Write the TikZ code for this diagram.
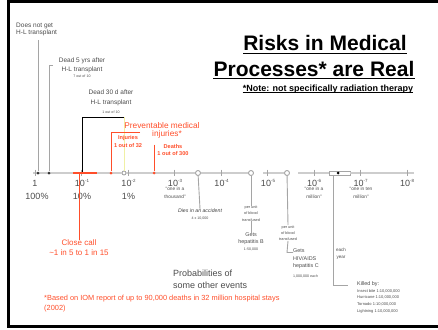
\documentclass[tikz,border=0pt]{standalone}
\usepackage{fontspec}
\setmainfont{Liberation Sans}
\definecolor{medred}{RGB}{255,78,42}
\definecolor{txtgray}{RGB}{75,75,75}
\definecolor{linegray}{RGB}{165,165,165}
\definecolor{axisgray}{RGB}{205,205,205}
\definecolor{paleyellow}{RGB}{240,240,165}
\newcommand{\sz}[1]{\fontsize{#1}{#1}\selectfont}
\newcommand{\dec}[1]{10\raisebox{0.5em}{\fontsize{4.5}{4.5}\selectfont -#1}}
\begin{document}
\begin{tikzpicture}[x=1pt,y=-1pt,
  lbl/.style={inner sep=0pt, text=txtgray, align=center},
  axlab/.style={lbl, font=\sz{9}},
  quote/.style={lbl, font=\fontsize{4.8}{7.5}\selectfont},
  tiny/.style={lbl, font=\fontsize{3.6}{6.5}\selectfont},
  redtxt/.style={inner sep=0pt, text=medred, align=center},
  axisline/.style={draw=axisgray, line width=1.6pt},
  tickmark/.style={draw=linegray, line width=0.9pt},
  lead/.style={draw=linegray, line width=0.9pt},
  redlead/.style={draw=medred, line width=1pt},
  hollow/.style={circle, draw=linegray, fill=white, line width=0.9pt, inner sep=0pt, minimum size=5pt},
  dot/.style={circle, fill=#1, inner sep=0pt, minimum size=3pt},
  title/.style={inner sep=0pt, font=\bfseries\sz{21}, anchor=base},
  ul/.style={draw=black, line width=1.6pt}]
\useasboundingbox (0,0) rectangle (438,329);

% slide frame
\draw[line width=3pt] (438,2) -- (8.5,2) -- (8.5,326) -- (438,326);

% title
\node[title] (t1) at (325,51) {Risks in Medical};
\node[title] (t2) at (314,76) {Processes* are Real};
\node[inner sep=0pt, font=\bfseries\sz{9}, anchor=base] (nt) at (328,91) {*Note: not specifically radiation therapy};
\draw[ul] ([yshift=-2.5pt]t1.base west) -- ([yshift=-2.5pt]t1.base east);
\draw[ul] ([yshift=-2.5pt]t2.base west) -- ([yshift=-2.5pt]t2.base east);
\draw[draw=black, line width=0.9pt] ([yshift=-1.8pt]nt.base west) -- ([yshift=-1.8pt]nt.base east);

% probability axis
\coordinate (a0) at (33,173);
\coordinate (s2) at (263,173);
\coordinate (s3) at (298,173);
\coordinate (aend) at (414,173);
\node[hollow] (c1) at (198,173) {};
\node[hollow] (c2) at (251,173) {};
\node[hollow] (c3) at (287,173) {};
\node[draw=linegray, fill=white, line width=0.9pt, inner sep=0pt, minimum width=21pt, minimum height=4pt] (yr) at (339.5,173) {};
\node[hollow, minimum size=4pt] (cy) at (124,173) {};
\draw[axisline] (a0) -- (cy) -- (c1) -- (c2);
\draw[axisline] (s2) -- (c3);
\draw[axisline] (s3) -- (yr) -- (aend);
\foreach \k in {0,...,8}
  \draw[tickmark] (35+46.5*\k,169.5) -- ++(0,6.5);

% decade labels
\node[axlab] (d0) at (35,183) {1};
\node[axlab] (d1) at (82,183) {\dec{1}};
\node[axlab] (d2) at (128.5,183) {\dec{2}};
\node[axlab] (d3) at (175,183) {\dec{3}};
\node[axlab] (d4) at (221.5,183) {\dec{4}};
\node[axlab] (d5) at (268,183) {\dec{5}};
\node[axlab] (d6) at (314,183) {\dec{6}};
\node[axlab] (d7) at (360.5,183) {\dec{7}};
\node[axlab] (d8) at (407,183) {\dec{8}};
\node[axlab] (p0) at (37,196) {100\%};
\node[axlab] (p1) at (82,196) {10\%};
\node[axlab] (p2) at (128.5,196) {1\%};
\node[quote] (q3) at (175,193) {``one in a\\thousand''};
\node[quote] (q6) at (314,193) {``one in a\\million''};
\node[quote] (q7) at (361,193) {``one in ten\\million''};

% heart-lung transplant outcomes
\node[dot=black!80] (m0) at (38,173) {};
\node[dot=black!80] (m1) at (49,173) {};
\node[lbl, font=\fontsize{6.5}{7.5}\selectfont, align=left, anchor=north west] (hl0) at (16,22.5) {Does not get\\H-L transplant};
\draw[lead] (38,40) -- (m0);
\node[lbl, font=\fontsize{6.5}{9}\selectfont] (hl5) at (82,65) {Dead 5 yrs after\\H-L transplant};
\node[tiny] (hl5n) at (82,76.5) {7 out of 10};
\draw[lead] (53,65.5) -- (49,65.5) -- (m1);
\node[lbl, font=\fontsize{6.5}{9.5}\selectfont] (hl30) at (111,98) {Dead 30 d after\\H-L transplant};
\node[tiny] (hl30n) at (111,112.5) {1 out of 10};
\coordinate (bk1) at (82,117);
\coordinate (bk2) at (124,117);
\draw[draw=black, line width=1pt] (82,173) -- (bk1) -- (bk2);
\draw[draw=paleyellow, line width=1pt] (bk2) -- (cy);

% medical injuries
\node[redtxt, font=\fontsize{8.3}{8.3}\selectfont, anchor=base] (pm) at (162,128.5) {Preventable medical};
\node[redtxt, font=\fontsize{8.3}{8.3}\selectfont, anchor=base] (pmi) at (167,136) {injuries*};
\node[redtxt, font=\bfseries\fontsize{5.6}{8}\selectfont] (inj) at (128,142) {Injuries\\1 out of 32};
\node[redtxt, font=\bfseries\fontsize{5.6}{7}\selectfont] (dth) at (173,150) {Deaths\\1 out of 300};
\node[dot=medred] (ri) at (111,173) {};
\node[dot=medred] (rd) at (154,173) {};
\draw[redlead] (140,132) -- (111,132) -- (ri);
\draw[redlead] (154,144.5) -- (rd);

% close call
\coordinate (cc1) at (73,173);
\coordinate (cc2) at (97,173);
\draw[draw=medred, line width=2.6pt] (cc1) -- (cc2);
\node[redtxt, font=\fontsize{8}{10}\selectfont] (cc) at (79,248) {Close call\\\textasciitilde1 in 5 to 1 in 15};
\draw[redlead] (79,173) -- (cc.north);

% other events
\node[lbl, font=\itshape\fontsize{5.2}{5.2}\selectfont, text=black!75] (acc) at (200,211) {Dies in an accident};
\node[tiny] (accn) at (200,218) {4 x 10,000};
\draw[lead] (c1) -- (acc.north);

\node[tiny, font=\fontsize{3.8}{6.3}\selectfont] (bu1) at (251,213.5) {per unit\\of blood\\transfused};
\draw[lead] (c2) -- (bu1.north);
\node[lbl, font=\fontsize{5.4}{7}\selectfont] (hb) at (251,239) {Gets\\hepatitis B};
\node[tiny] (hbn) at (251,249.5) {1:50,000};
\draw[lead] (bu1.south) -- (hb.north);

\node[tiny, font=\fontsize{3.8}{6.3}\selectfont] (bu2) at (288,233) {per unit\\of blood\\transfused};
\draw[lead] (c3) -- (bu2.north);
\node[lbl, font=\fontsize{5.4}{7.5}\selectfont, align=left, anchor=north west] (hiv) at (293,249) {Gets\\HIV/AIDS\\hepatitis C};
\node[tiny, anchor=west] (hivn) at (293,276.5) {1,000,000 each};
\draw[lead] (bu2.south) -- (287,252.5) -- (hiv.west |- 0,252.5);

\node[lbl, font=\fontsize{4.6}{7}\selectfont] (ey) at (341,253.5) {each\\year};
\coordinate (kb) at (348,285);
\draw[lead] (333,175) -- (333,285) -- (kb);
\node[dot=black] (yd) at (338,173) {};
\node[lbl, font=\fontsize{5.4}{5.4}\selectfont, anchor=west] (kill) at (357,284) {Killed by:};
\node[tiny, font=\fontsize{4}{6.8}\selectfont, align=left, anchor=north west] (kl) at (357,289) {Insect bite 1:10,000,000\\Hurricane 1:10,000,000\\Tornado 1:10,000,000\\Lightning 1:10,000,000};

\node[lbl, font=\fontsize{9}{12}\selectfont, align=left, anchor=north west] (prob) at (173,270) {Probabilities of\\some other events};

% footnote
\node[redtxt, font=\fontsize{7.4}{10}\selectfont, align=left, anchor=north west] (fn) at (44,295) {*Based on IOM report of up to 90,000 deaths in 32 million hospital stays\\(2002)};
\end{tikzpicture}
\end{document}
